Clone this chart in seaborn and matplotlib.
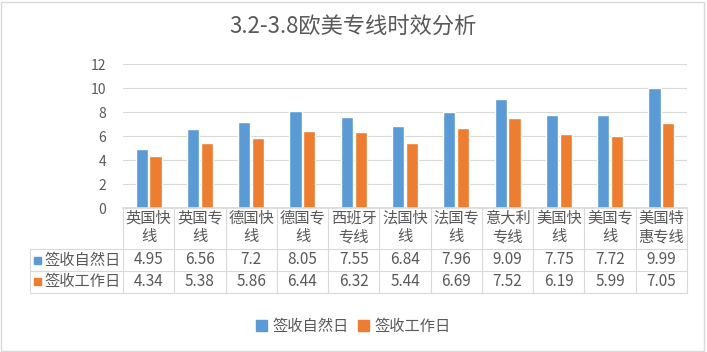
import matplotlib
matplotlib.use("Agg")
import matplotlib.pyplot as plt
import matplotlib.transforms as mtransforms
from matplotlib.patches import Rectangle
from matplotlib.lines import Line2D
import seaborn as sns
import pandas as pd

# data
categories = ['英国快线', '英国专线', '德国快线', '德国专线', '西班牙专线', '法国快线',
              '法国专线', '意大利专线', '美国快线', '美国专线', '美国特惠专线']
natural_days = [4.95, 6.56, 7.2, 8.05, 7.55, 6.84, 7.96, 9.09, 7.75, 7.72, 9.99]
work_days = [4.34, 5.38, 5.86, 6.44, 6.32, 5.44, 6.69, 7.52, 6.19, 5.99, 7.05]
series_names = ['签收自然日', '签收工作日']
y_ticks = [0, 2, 4, 6, 8, 10, 12]

colors = ['#5B9BD5', '#ED7D31']
text_gray = '#595959'
line_gray = '#D9D9D9'

df = pd.DataFrame({
    'cat': categories * 2,
    'val': natural_days + work_days,
    'series': [series_names[0]] * len(categories) + [series_names[1]] * len(categories),
})

sns.set_theme(style='white')
plt.rcParams['font.family'] = ['Noto Sans CJK SC', 'DejaVu Sans']

W, H = 707, 352
fig = plt.figure(figsize=(W / 100, H / 100), dpi=100)
L, R, T, B = 123, 687, 64, 208
ax = fig.add_axes([L / W, 1 - B / H, (R - L) / W, (B - T) / H])

sns.barplot(data=df, x='cat', y='val', hue='series', palette=colors,
            width=0.54, gap=0.12, ax=ax, legend=False, saturation=1)

ax.set_xlim(-0.5, len(categories) - 0.5)
ax.set_ylim(0, 12)
ax.set_yticks(y_ticks)
ax.set_yticklabels([str(t) for t in y_ticks], color=text_gray, fontsize=10)
ax.set_xticks([])
ax.set_xlabel('')
ax.set_ylabel('')
ax.tick_params(axis='y', length=0, pad=12)
ax.yaxis.grid(True, color=line_gray, linewidth=0.8)
ax.set_axisbelow(True)
for s in ['top', 'right', 'left']:
    ax.spines[s].set_visible(False)
ax.spines['bottom'].set_color(line_gray)

# data table below the axes
def ay(py):
    return (B - py) / (B - T)

def ax_(px):
    return (px - L) / (R - L)

blend = mtransforms.blended_transform_factory(ax.transData, ax.transAxes)
row_tops = [B, 249, 270.5, 293]

# horizontal lines
for py in row_tops[1:]:
    ax.add_line(Line2D([ax_(30), 1], [ay(py), ay(py)], transform=ax.transAxes,
                       color=line_gray, lw=0.8, clip_on=False))
# left border of row labels
ax.add_line(Line2D([ax_(30), ax_(30)], [ay(row_tops[1]), ay(row_tops[3])],
                   transform=ax.transAxes, color=line_gray, lw=0.8, clip_on=False))
# vertical column separators
for i in range(len(categories) + 1):
    ax.add_line(Line2D([i - 0.5, i - 0.5], [0, ay(row_tops[3])], transform=blend,
                       color=line_gray, lw=0.8, clip_on=False))

fs = 11
for i, name in enumerate(categories):
    ax.text(i, ay(218), name[:3], transform=blend, ha='center', va='center',
            fontsize=fs, color=text_gray, clip_on=False)
    ax.text(i, ay(237), name[3:], transform=blend, ha='center', va='center',
            fontsize=fs, color=text_gray, clip_on=False)
    ax.text(i, ay(260), f'{natural_days[i]:g}', transform=blend, ha='center',
            va='center', fontsize=fs, color=text_gray, clip_on=False)
    ax.text(i, ay(281.5), f'{work_days[i]:g}', transform=blend, ha='center',
            va='center', fontsize=fs, color=text_gray, clip_on=False)

for j, (name, py) in enumerate(zip(series_names, [260, 281.5])):
    ax.add_patch(Rectangle((ax_(34), ay(py + 3.5)), 7 / (R - L), 7 / (B - T),
                           transform=ax.transAxes, color=colors[j], clip_on=False))
    ax.text(ax_(44), ay(py), name, transform=ax.transAxes, ha='left', va='center',
            fontsize=fs, color=text_gray, clip_on=False)

# title
fig.text(0.5, 1 - 27 / H, '3.2-3.8欧美专线时效分析', ha='center', va='center',
         fontsize=16, color=text_gray)

# legend
handles = [Rectangle((0, 0), 1, 1, color=c) for c in colors]
fig.legend(handles, series_names, loc='center', bbox_to_anchor=(0.5, 1 - 326 / H),
           ncol=2, frameon=False, fontsize=fs, handlelength=0.7, handleheight=0.7,
           handletextpad=0.4, columnspacing=0.6, labelcolor=text_gray)

# chart border
fig.patches.append(Rectangle((1 / W, 1 / H), 1 - 4 / W, 1 - 3 / H, transform=fig.transFigure,
                             fill=False, edgecolor=line_gray, lw=1))

fig.savefig('out.png', dpi=100)
